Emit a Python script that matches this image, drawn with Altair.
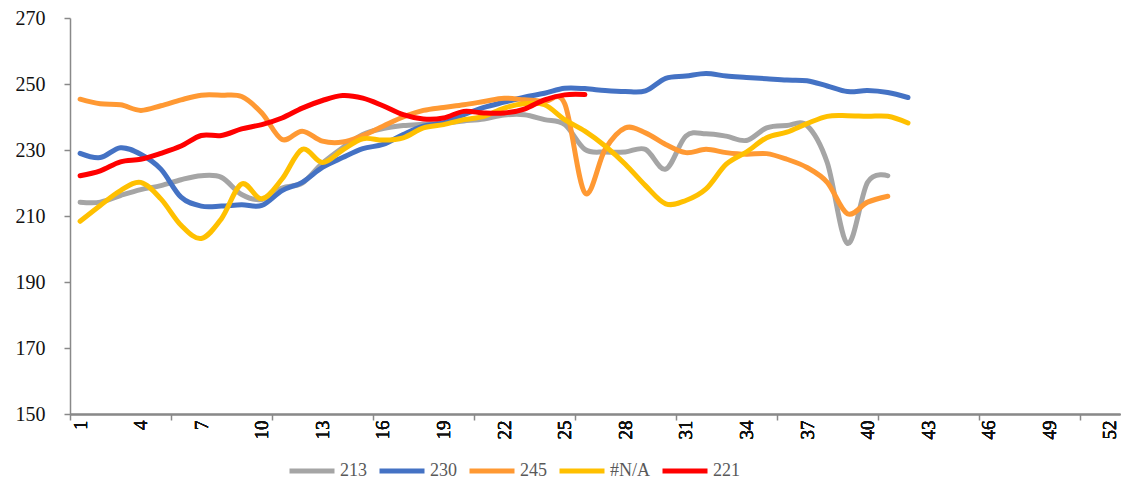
import altair as alt
import pandas as pd

series_names = ["213", "230", "245", "#N/A", "221"]
series_colors = ["#A5A5A5", "#4472C4", "#FF9933", "#FFC000", "#FF0000"]

s213 = [214.2, 214.2, 216.2, 218, 219.2, 221, 222.2, 221.7, 216.5, 215, 218.5, 220, 226,
        230.7, 234.7, 236.5, 237.4, 237.8, 238.2, 238.8, 239.4, 240.6, 240.7, 239.2, 237.7,
        230.2, 229.4, 229.4, 230.2, 224.2, 234.2, 234.9, 234.2, 232.9, 236.7, 237.4, 237.4,
        226.2, 201.7, 220.2, 222.2]
s230 = [229, 227.7, 230.7, 228.7, 224.2, 215.7, 213, 213, 213.4, 213.2, 217.7, 220.2, 224.7,
        227.7, 230.4, 231.7, 234.7, 237.2, 238.2, 240.7, 242.9, 244.5, 246, 247.2, 248.7,
        248.6, 248, 247.7, 247.9, 251.7, 252.4, 253.2, 252.4, 252, 251.6, 251.2, 251, 249.4,
        247.7, 248, 247.4, 245.9]
s245 = [245.4, 244, 243.7, 242, 243.4, 245.2, 246.6, 246.6, 246.2, 241.2, 233.2, 235.7, 232.7,
        232.4, 234.4, 237.2, 240, 242, 242.9, 243.7, 244.7, 245.7, 245.2, 244.7, 244,
        217, 230.2, 236.7, 235.2, 231.7, 229.2, 230.2, 229.2, 228.7, 228.9, 227.2, 224.7,
        220.2, 210.7, 214.2, 216]
sNA = [208.4, 213.2, 217.7, 220.2, 215.2, 207.2, 203.2, 209.2, 219.7, 215.2, 221.2, 230.2, 226.2,
       230, 233.4, 233, 233.7, 236.7, 237.7, 239.2, 240.2, 242.7, 244, 243.7, 239.2, 235.7,
       231.2, 225.7, 219.2, 213.7, 214.7, 218.2, 225.7, 229.4, 233.7, 235.4, 238, 240.2,
       240.4, 240.2, 240.2, 238.2]
s221 = [222.2, 223.7, 226.4, 227.2, 229, 231.2, 234.4, 234.4, 236.4, 237.7, 239.7, 242.7, 245,
        246.5, 245.7, 243.4, 240.7, 239.4, 239.7, 241.7, 241.2, 241.2, 242.4, 245.2, 246.7, 246.8]

x_labels = list(range(1, 53, 3))
x_ticks = [0.5 + 5 * i for i in range(11)]
y_ticks = [150, 170, 190, 210, 230, 250, 270]

all_values = [s213, s230, s245, sNA, s221]
rows = []
for name, vals in zip(series_names, all_values):
    for i, v in enumerate(vals):
        rows.append({"week": i + 1, "value": v, "series": name})
df = pd.DataFrame(rows)

FONT = "Liberation Serif"

xscale = alt.Scale(domain=[0.5, 52.5], nice=False, zero=False)
yscale = alt.Scale(domain=[150, 270], nice=False, zero=False)
cscale = alt.Scale(domain=series_names, range=series_colors)

x_axis = alt.Axis(values=x_labels, orient="bottom", labelAngle=-90, ticks=False, labelPadding=6,
                  labelFontSize=19, labelFontWeight="normal", grid=False, title=None,
                  labelFlush=False, labelOverlap=False)
y_axis = alt.Axis(values=y_ticks, orient="left", tickSize=6, labelPadding=19, labelFontSize=20,
                  labelFontWeight="normal", grid=False, title=None)
legend = alt.Legend(
    orient="none", direction="horizontal", legendX=217, legendY=428,
    title=None, symbolType="stroke", symbolSize=2025, symbolStrokeWidth=5,
    labelFont=FONT, labelFontSize=18, labelFontWeight="normal", labelColor="#595959",
    columnPadding=2, labelOffset=3,
)

layers = []
for name in series_names:
    layer = alt.Chart(df).transform_filter(
        alt.datum.series == name
    ).mark_line(interpolate="cardinal", strokeWidth=5, strokeCap="round").encode(
        x=alt.X("week:Q", scale=xscale, axis=x_axis),
        y=alt.Y("value:Q", scale=yscale, axis=y_axis),
        color=alt.Color("series:N", scale=cscale, legend=legend),
    )
    layers.append(layer)

tick_layer = alt.Chart(pd.DataFrame({"t": x_ticks})).mark_point(opacity=0).encode(
    x=alt.X("t:Q", scale=xscale,
            axis=alt.Axis(values=x_ticks, orient="bottom", labels=False, tickSize=6,
                          domain=False, grid=False, title=None)),
)

chart = alt.layer(*layers, tick_layer).resolve_axis(x="independent").properties(
    width=1050, height=396,
    autosize=alt.AutoSizeParams(type="none"),
    padding={"left": 62, "top": 10, "right": 17, "bottom": 69},
).configure(font=FONT).configure_axis(
    domainColor="#898989", domainWidth=1.5, tickColor="#898989", tickWidth=1.5,
    labelFont=FONT, labelColor="#111111",
).configure_view(stroke=None)

chart.save("out.html", embed_options={"renderer": "svg", "actions": False})
